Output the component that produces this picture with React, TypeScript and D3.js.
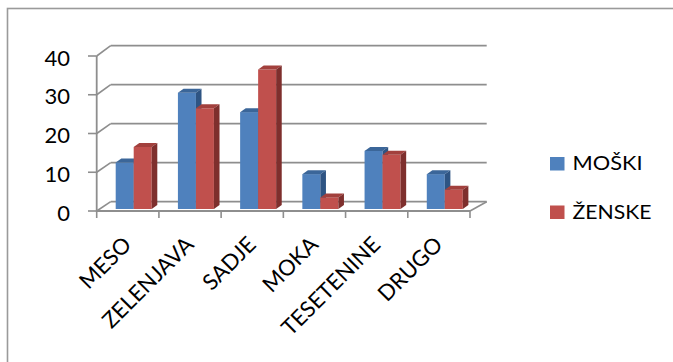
import React from "react";
import * as d3 from "d3";

const categories = ["MESO", "ZELENJAVA", "SADJE", "MOKA", "TESETENINE", "DRUGO"];
const seriesNames = ["MOŠKI", "ŽENSKE"];
const moski = [12, 30, 25, 9, 15, 9];
const zenske = [16, 26, 36, 3, 14, 5];
const yTicks = [0, 10, 20, 30, 40];

const W = 673;
const H = 362;
const FONT = "Lato, 'Liberation Sans', Arial, sans-serif";

const colors = [
  { front: "#4F81BD", top: "#3B6699", side: "#2E5483" },
  { front: "#C0504D", top: "#A2403D", side: "#7E2F2D" },
];

export default function App() {
  const x = d3.scaleBand<string>().domain(categories).range([96.7, 470]).paddingInner(0).paddingOuter(0);
  const inner = d3.scaleBand<string>().domain(seriesNames).range([19, 55]);
  const yFront = d3.scaleLinear().domain([0, 40]).range([211, 56]);
  const yBar = d3.scaleLinear().domain([0, 40]).range([209, 54]);
  const yBack = d3.scaleLinear().domain([0, 40]).range([201.7, 45.7]);
  const backX0 = 110.7;
  const backX1 = 486.7;
  const bdx = 5.6;
  const bdy = -4;
  const grid = "#8E8E8E";
  const values = [moski, zenske];

  const bars: React.ReactNode[] = [];
  categories.forEach((c, i) => {
    seriesNames.forEach((s, si) => {
      const v = values[si][i];
      const x0 = (x(c) as number) + (inner(s) as number);
      const x1 = x0 + inner.bandwidth();
      const top = yBar(v);
      const base = yBar(0);
      const col = colors[si];
      bars.push(
        <g key={c + s}>
          <rect x={x0} y={top} width={x1 - x0} height={base - top} fill={col.front} />
          <polygon
            points={`${x0},${top} ${x0 + bdx},${top + bdy} ${x1 + bdx},${top + bdy} ${x1},${top}`}
            fill={col.top}
          />
          <polygon
            points={`${x1},${top} ${x1 + bdx},${top + bdy} ${x1 + bdx},${base + bdy} ${x1},${base}`}
            fill={col.side}
          />
        </g>
      );
    });
  });

  const catBounds = [...categories.map((c) => x(c) as number), 470];

  return (
    <svg width={W} height={H} style={{ position: "absolute", left: 0, top: 0, background: "#fff" }}>
      <rect x={7.5} y={8.5} width={W} height={H} fill="#fff" stroke="#9A9A9A" strokeWidth={1.6} />
      {yTicks.map((t) => (
        <g key={t}>
          <line x1={backX0} x2={backX1} y1={yBack(t)} y2={yBack(t)} stroke={grid} strokeWidth={1.8} />
          <line x1={96.7} y1={yFront(t)} x2={backX0} y2={yBack(t)} stroke={grid} strokeWidth={1.6} />
          <line x1={88} x2={96.7} y1={yFront(t)} y2={yFront(t)} stroke={grid} strokeWidth={1.6} />
          <text
            x={70}
            y={yFront(t) + 1}
            textAnchor="end"
            dominantBaseline="central"
            fontFamily={FONT}
            fontSize={22}
            fill="#000"
          >
            {t}
          </text>
        </g>
      ))}
      <line x1={96.7} x2={470} y1={yFront(0)} y2={yFront(0)} stroke={grid} strokeWidth={1.8} />
      <line x1={470} y1={yFront(0)} x2={backX1} y2={yBack(0)} stroke={grid} strokeWidth={1.6} />
      <line x1={96.7} x2={96.7} y1={yFront(0) + 1} y2={yFront(40)} stroke={grid} strokeWidth={1.8} />
      {catBounds.map((b, i) => (
        <line key={i} x1={b} x2={b} y1={yFront(0)} y2={yFront(0) + 7} stroke={grid} strokeWidth={1.6} />
      ))}
      {bars}
      {categories.map((c) => {
        const cx = (x(c) as number) + x.bandwidth() / 2 + 5;
        return (
          <text
            key={c}
            transform={`translate(${cx},246) rotate(-45)`}
            textAnchor="end"
            fontFamily={FONT}
            fontSize={22}
            fill="#000"
          >
            {c}
          </text>
        );
      })}
      {seriesNames.map((s, i) => {
        const y0 = i === 0 ? 157 : 205.5;
        return (
          <g key={s}>
            <rect x={550} y={y0} width={14.5} height={13.5} fill={colors[i].front} />
            <text
              x={572.5}
              y={y0 + 13}
              fontFamily={FONT}
              fontSize={19.5}
              fill="#000"
              textLength={i === 0 ? 70 : 79}
              lengthAdjust="spacingAndGlyphs"
            >
              {s}
            </text>
          </g>
        );
      })}
    </svg>
  );
}
